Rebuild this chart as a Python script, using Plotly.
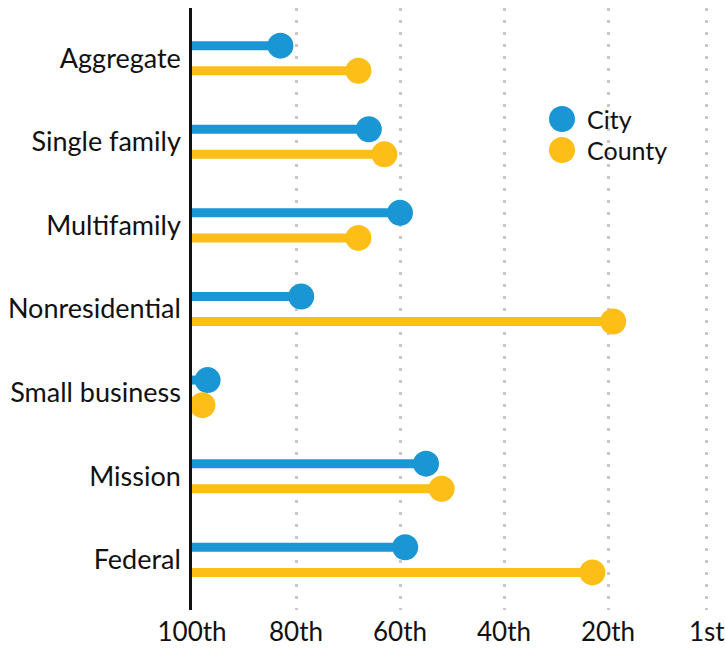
import plotly.graph_objects as go

categories = ["Aggregate", "Single family", "Multifamily", "Nonresidential",
              "Small business", "Mission", "Federal"]
city = [83, 66, 60, 79, 97, 55, 59]
county = [68, 63, 68, 19, 98, 52, 23]
tick_vals = [100, 80, 60, 40, 20, 1]
tick_text = ["100th", "80th", "60th", "40th", "20th", "1st"]
series_names = ["City", "County"]

BLUE = "#1a96d4"
YELLOW = "#fdbe17"
FONT = "Lato"

fig = go.Figure()

def add_series(vals, offset, color, name):
    ys = [i + offset for i in range(len(vals))]
    lx, ly = [], []
    for v, y in zip(vals, ys):
        lx += [100, v, None]
        ly += [y, y, None]
    fig.add_trace(go.Scatter(x=lx, y=ly, mode="lines",
                             line=dict(color=color, width=9),
                             showlegend=False, hoverinfo="skip"))
    fig.add_trace(go.Scatter(x=vals, y=ys, mode="markers", name=name,
                             marker=dict(color=color, size=26, line=dict(width=0)),
                             showlegend=False))

add_series(city, -0.15, BLUE, series_names[0])
add_series(county, 0.15, YELLOW, series_names[1])

# manual legend (page pixel targets converted to paper coords)
leg_x = 562
for k, (nm, col) in enumerate(zip(series_names, [BLUE, YELLOW])):
    cy = 119 + 31 * k
    fig.add_shape(type="circle", xref="paper", yref="paper",
                  x0=(leg_x - 13 - 192) / 533, x1=(leg_x + 13 - 192) / 533,
                  y0=(610 - (cy + 13)) / 602, y1=(610 - (cy - 13)) / 602,
                  fillcolor=col, line=dict(width=0))
    fig.add_annotation(xref="paper", yref="paper",
                       x=(585 - 192) / 533, y=(610 - cy) / 602,
                       text=nm, showarrow=False, xanchor="left", yanchor="middle",
                       font=dict(family=FONT, size=25, color="#111111"))

fig.update_layout(
    width=725, height=658,
    margin=dict(l=192, r=0, t=8, b=48),
    paper_bgcolor="white", plot_bgcolor="white",
    font=dict(family=FONT, size=26, color="#111111"),
    showlegend=False,
    xaxis=dict(range=[100, -2.5], tickvals=tick_vals, ticktext=tick_text,
               showgrid=True, gridcolor="#c8c8c8", gridwidth=2.5, griddash="3px,9px",
               zeroline=False, showline=False, ticks="", fixedrange=True,
               automargin=False, ticklabelstandoff=4, ticklabeloverflow="allow",
               tickfont=dict(family=FONT, size=26, color="#111111")),
    yaxis=dict(range=[6.6, -0.6], tickvals=list(range(len(categories))),
               ticktext=categories, showgrid=False, zeroline=False,
               showline=True, linecolor="#111111", linewidth=2.5, ticks="",
               fixedrange=True, automargin=False, ticklabelstandoff=3,
               tickfont=dict(family=FONT, size=27, color="#111111")),
)

fig.write_html(
    "out.html",
    config={"displayModeBar": False},
    post_script=("document.body.style.margin='0';"
                 "document.body.style.overflow='hidden';"
                 "document.documentElement.style.overflow='hidden';"),
)
